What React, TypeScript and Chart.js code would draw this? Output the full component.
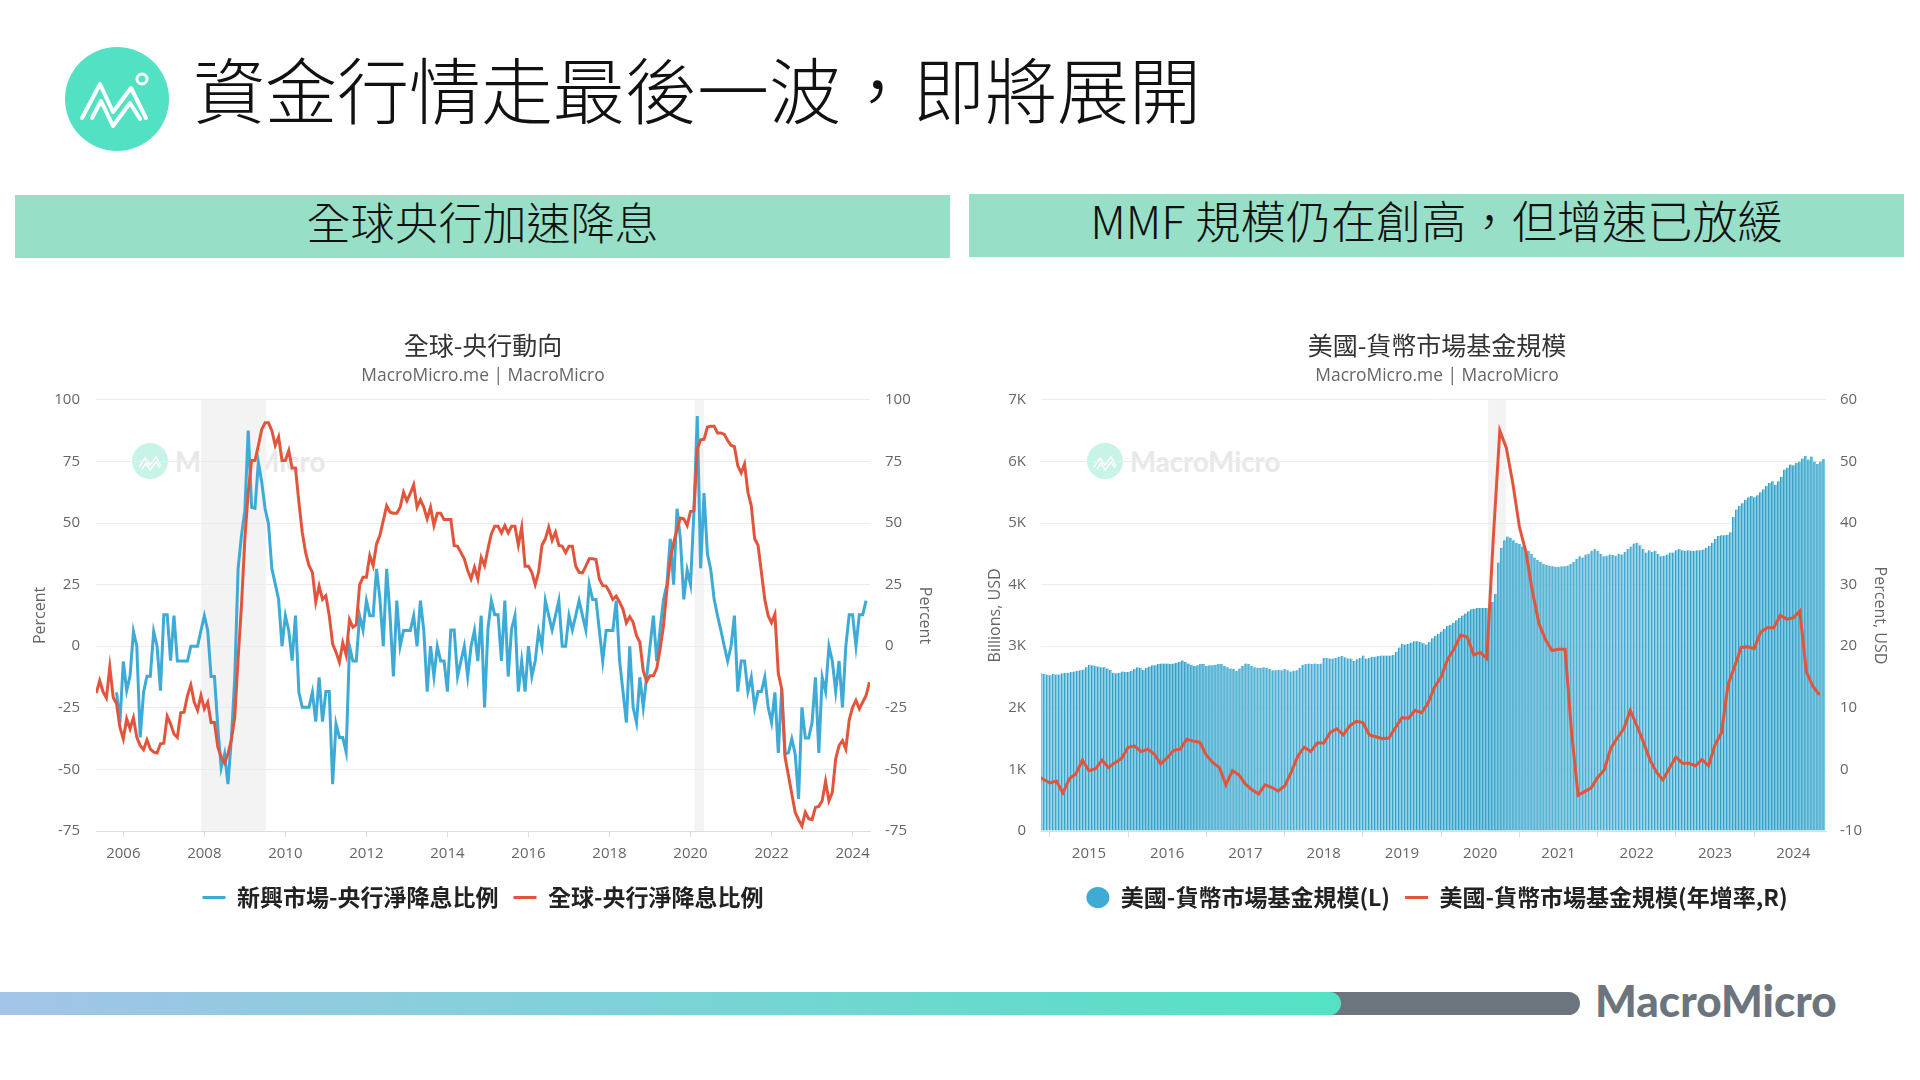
import React, { useEffect, useRef } from "react";
import { Chart, registerables } from "chart.js";

Chart.register(...registerables);

const FONT = '"Open Sans", "Noto Sans CJK TC", sans-serif';
const CJK = '"Noto Sans CJK TC", "Noto Sans", sans-serif';

const heading = "資金行情走最後一波，即將展開";
const bannerLeft = "全球央行加速降息";
const bannerRight = "MMF 規模仍在創高，但增速已放緩";

const titleLeft = "全球-央行動向";
const titleRight = "美國-貨幣市場基金規模";
const subtitleText = "MacroMicro.me | MacroMicro";

const nameEmerging = "新興市場-央行淨降息比例";
const nameGlobal = "全球-央行淨降息比例";
const nameSize = "美國-貨幣市場基金規模(L)";
const nameGrowth = "美國-貨幣市場基金規模(年增率,R)";

// monthly, starting 2005-05
const globalNet = [
  -19, -14, -18.5, -21, -8.5, -20.7, -23.4, -33,
  -37.6, -29.5, -33.5, -29, -37, -40.3, -42, -38, -41.7, -43, -43.3, -39.6,
  -39.4, -28.4, -31.5, -35.6, -37, -27, -26.8, -20, -15.7, -22.7, -26, -20,
  -25.4, -22.7, -31, -31, -41, -45, -47.4, -43.7, -38, -29, -5, 16.5,
  43.6, 62.5, 75.4, 75.4, 81.5, 88, 90.7, 90.7, 87.5, 81.5, 85, 75.4,
  75.4, 79.4, 72.3, 72.3, 58.5, 46.3, 38, 32.7, 30, 18, 24.4, 19,
  20.5, 12.4, 1, -2.4, -6.5, 1.4, -3.5, 10.8, 7.7, 8.7, 25, 28,
  28, 36.8, 32.7, 41.5, 45, 51, 57, 54.4, 54, 54, 56.4, 62.5,
  59, 62, 65.5, 56.4, 59.5, 56.4, 51.7, 56.4, 49, 54, 54, 51.4,
  51.4, 51.4, 40.9, 40.6, 38, 35.5, 30.7, 27.3, 32, 27.3, 36, 32.7,
  39.5, 45.6, 48.7, 48.7, 46, 49, 46, 48.7, 48.7, 41, 48.3, 32.5,
  32.5, 30, 25, 30, 41, 43.6, 48.3, 43, 46.3, 41, 40.6, 38,
  40.6, 40.6, 32.5, 30, 29.8, 32.5, 35.5, 35.5, 35.2, 27.3, 24.6, 24.4,
  22, 19, 20.3, 17.9, 15, 9.5, 12, 9.7, 4.3, 1.6, -10, -14.3,
  -12, -12, -9, -1, 8.4, 23, 35.5, 42, 47.5, 52, 51.7, 49,
  54.7, 55, 80, 83.8, 84, 89, 89.3, 89.3, 86.6, 86.6, 86, 83.5,
  81.5, 81, 73.3, 70.4, 74, 62.5, 57, 43.6, 41, 30, 19, 12.4,
  9.5, 13, -11, -17.3, -45, -52.5, -60, -67.4, -70.4, -73, -67.4, -70,
  -70.4, -65.4, -65, -62.7, -54.8, -62.7, -59.3, -45.7, -40.3, -38.3, -41.7, -30,
  -24.8, -22, -25.4, -22.7, -20, -14.6,
];

const emergingNet = [
  null, null, null, null, null, null, -18.7, -31,
  -6.2, -18, -12, 6, 0, -37, -18.7, -12.2, -12.2, 6, 0, -18,
  12.8, 12.8, -5.8, 12.4, -6, -6, -6, -6, 0, 0, 0, 6.4,
  12.4, 6.4, -12.3, -12.3, -33, -49.4, -43.7, -56, -37.6, -13, 31.4, 45,
  55, 87.5, 56.4, 56, 74.7, 66.6, 55.8, 49.7, 31.4, 25.3, 19, 0,
  12.4, 6.4, -5.8, 12.4, -18.7, -24.8, -24.8, -24.8, -18.7, -30.6, -12.6, -30.6,
  -18.4, -18.4, -56, -31.5, -37, -37, -43, 0, -6, -6, 12.4, 6.6,
  18.5, 12.4, 12.4, 31.4, 19.2, 0, 31.4, 12.4, -12.3, 18.5, 0, 6.4,
  6.4, 6.4, 12.4, 0, 18.5, 6.4, -18.4, 0, -12.3, 0, -6, -6,
  -18.4, 6.6, 6.6, -12.3, -6, 0, -12.3, 0, 6.4, -6, 12.4, -24.8,
  7, 18.5, 12.8, 12.8, -6, 18.5, -12.3, 7, 12.4, -18.4, -6, -18.4,
  0, -12.3, -6, 6, 0, 18.5, 12.4, 6.6, 12.4, 18.5, 0, 0,
  12.4, 6.6, 12.4, 18.5, 12.4, 6.6, 25, 19, 19, 6.4, -6, 6.4,
  6.4, 6.4, 18.5, -6, -18.4, -31, 0, -24.8, -31, -12.6, -24.8, -12.6,
  0, 12.4, -6, 7, 19, 25, 43.6, 25, 55.8, 43.6, 19, 31,
  25, 54.4, 93.4, 31.7, 62.2, 37.5, 31, 19, 12.4, 6.4, 0, -6,
  0, 12.4, -18.4, -6, -6, -18.4, -12.6, -24.8, -18.4, -18.4, -12.6, -24.8,
  -31, -18.7, -43.3, -17.3, -43.7, -43.3, -37.6, -43.7, -62, -24.8, -37.2, -37.2,
  -31, -12.6, -43.3, -12.6, -18.4, 0, -6, -18.4, -6, -24.8, 0, 12.8,
  12.8, 0, 12.8, 12.8, 18.5,
];

// every two weeks, starting mid-May 2014, billions of USD (thousands)
const fundSize = [
  2.56, 2.55, 2.54, 2.53, 2.55, 2.54, 2.54, 2.56, 2.57, 2.57, 2.58, 2.59, 2.6, 2.61, 2.62, 2.66,
  2.7, 2.69, 2.68, 2.67, 2.66, 2.66, 2.64, 2.62, 2.57, 2.56, 2.57, 2.59, 2.58, 2.58, 2.6, 2.63, 2.66, 2.65, 2.62, 2.65, 2.67, 2.69, 2.69, 2.71, 2.72, 2.72,
  2.72, 2.71, 2.72, 2.73, 2.75, 2.77, 2.75, 2.72, 2.7, 2.68, 2.69, 2.71, 2.71, 2.68, 2.69, 2.69, 2.7, 2.71, 2.71, 2.68, 2.66, 2.64, 2.63, 2.6, 2.64, 2.68,
  2.72, 2.71, 2.68, 2.66, 2.65, 2.65, 2.66, 2.65, 2.63, 2.61, 2.61, 2.62, 2.61, 2.63, 2.61, 2.59, 2.6, 2.61, 2.65, 2.7, 2.71, 2.72, 2.71, 2.72, 2.71, 2.72,
  2.81, 2.81, 2.8, 2.8, 2.81, 2.83, 2.84, 2.82, 2.8, 2.8, 2.76, 2.79, 2.81, 2.85, 2.8, 2.81, 2.83, 2.83, 2.84, 2.85, 2.85, 2.85, 2.85, 2.86, 2.91, 2.98,
  3.04, 3.03, 3.04, 3.06, 3.08, 3.08, 3.07, 3.05, 3.03, 3.07, 3.13, 3.17, 3.2, 3.24, 3.28, 3.33, 3.35, 3.38, 3.42, 3.46, 3.5, 3.53, 3.57, 3.6, 3.61, 3.62,
  3.62, 3.62, 3.62, 3.63, 3.72, 3.85, 4.36, 4.6, 4.72, 4.78, 4.76, 4.72, 4.68, 4.66, 4.62, 4.58, 4.55, 4.5, 4.44, 4.4, 4.37, 4.34, 4.32, 4.31, 4.3, 4.29,
  4.29, 4.3, 4.3, 4.31, 4.34, 4.37, 4.42, 4.46, 4.44, 4.49, 4.5, 4.55, 4.58, 4.55, 4.5, 4.46, 4.47, 4.49, 4.48, 4.47, 4.5, 4.49, 4.53, 4.58, 4.62, 4.67,
  4.68, 4.64, 4.58, 4.52, 4.56, 4.53, 4.55, 4.5, 4.46, 4.47, 4.49, 4.52, 4.52, 4.56, 4.58, 4.56, 4.55, 4.56, 4.55, 4.55, 4.56, 4.56, 4.57, 4.6, 4.63, 4.68,
  4.74, 4.79, 4.8, 4.8, 4.81, 4.85, 5.1, 5.22, 5.28, 5.32, 5.38, 5.42, 5.44, 5.42, 5.45, 5.5, 5.55, 5.6, 5.65, 5.68, 5.62, 5.68, 5.75, 5.87, 5.9, 5.95,
  5.94, 5.98, 6, 6.05, 6.09, 6.03, 6.08, 6, 5.96, 6, 6.04,
];

// monthly, starting 2014-05
const fundGrowth = [
  -1, -1.6, -2.2, -1.9, -3.8, -1.5, -0.7, 1.5,
  -0.2, 0.1, 1.5, 0.3, 1.1, 1.8, 3.6, 3.8, 2.9, 3.3, 2.5, 0.9,
  1.9, 3.1, 3.3, 4.9, 4.6, 4.4, 2.3, 1.1, 0.3, -2.5, -0.2, -0.9,
  -2.4, -3.3, -4, -2.5, -2.9, -3.5, -2.7, -0.5, 2.1, 3.6, 2.9, 4.3,
  4.3, 6, 6.6, 5.6, 7.1, 7.8, 7.6, 5.6, 5.3, 5, 5.1, 6.8,
  8.4, 8.3, 9.6, 9.2, 10.8, 13.4, 15, 17.9, 19.6, 21.8, 21.5, 18.6,
  19, 18, 37.6, 55, 52.2, 46.4, 39.4, 35.3, 28.9, 23.7, 21.1, 19.3,
  19.5, 19.5, 6, -4.2, -3.6, -3, -1.3, -0.1, 3.4, 5.1, 6.6, 9.6,
  7.1, 4.5, 1.6, -0.4, -1.7, 0.2, 2, 1, 1, 0.6, 1.6, 0.6,
  4, 6, 13.8, 16.7, 19.8, 19.9, 19.6, 22.3, 23, 23, 25, 24.4,
  24.6, 25.7, 15.9, 13.5, 12.1,
];

// recession bands, as decimal years
const bandsLeft = [
  [2007.92, 2009.52],
  [2020.1, 2020.33],
];
const bandsRight = [[2020.1, 2020.33]];

const BLUE = "#3eaad6";
const BAR_DARK = "#3a9fc5";
const BAR_LIGHT = "#7ccae4";
const RED = "#e2553c";
const GRID = "#ececec";
const TICK = "#666666";

const monthly = (startYear: number, startMonth: number, values: (number | null)[]) =>
  values.map((y, i) => ({ x: startYear + (startMonth - 1 + i) / 12, y }));
const biweekly = (start: number, values: number[]) =>
  values.map((y, i) => ({ x: start + i / 26, y: y * 1000 }));

const bandPlugin = (bands: number[][]) => ({
  id: "bands",
  beforeDraw(chart: any) {
    const { ctx, chartArea, scales } = chart;
    ctx.save();
    ctx.fillStyle = "#f3f3f3";
    bands.forEach(([a, b]) => {
      const x0 = scales.x.getPixelForValue(a);
      const x1 = scales.x.getPixelForValue(b);
      ctx.fillRect(x0, chartArea.top, x1 - x0, chartArea.height);
    });
    ctx.restore();
  },
});

const tickFont = { family: FONT, size: 15 };

const legendItems = (chart: any) => {
  const items = Chart.defaults.plugins.legend.labels.generateLabels(chart);
  items.forEach((it: any) => {
    if (chart.data.datasets[it.datasetIndex].type === "bar") {
      it.fillStyle = BLUE;
      it.strokeStyle = BLUE;
      it.lineWidth = 0;
    }
  });
  return items;
};

const baseOptions = (title: string) => ({
  responsive: false,
  animation: false as const,
  layout: { padding: { top: 0, bottom: 0, left: 0, right: 0 } },
  plugins: {
    title: {
      display: true,
      text: title,
      color: "#333333",
      font: { family: CJK, size: 25, weight: "normal" as const, lineHeight: 1.2 },
      padding: { top: 3, bottom: 1 },
    },
    subtitle: {
      display: true,
      text: subtitleText,
      color: "#666666",
      font: { family: FONT, size: 17.4, weight: "normal" as const, lineHeight: 1.2 },
      padding: { top: 5, bottom: 13 },
    },
    legend: {
      position: "bottom" as const,
      labels: {
        usePointStyle: true,
        pointStyleWidth: 23,
        boxHeight: 15,
        padding: 15,
        color: "#222222",
        font: { family: CJK, size: 23, weight: "bold" as const, lineHeight: 1.2 },
        generateLabels: legendItems,
        sort: (a: any, b: any) => a.datasetIndex - b.datasetIndex,
      },
    },
    tooltip: { enabled: false },
  },
});

const xAxis = (min: number, max: number, step: number) => ({
  type: "linear" as const,
  min,
  max,
  border: { color: "#dddddd" },
  grid: { drawOnChartArea: false, drawTicks: true, tickLength: 6, color: "#dddddd" },
  ticks: {
    stepSize: step,
    includeBounds: false,
    autoSkip: false,
    maxRotation: 0,
    padding: 8,
    color: TICK,
    font: tickFont,
    callback: (v: number | string) => String(v),
  },
});

const yAxis = (
  position: "left" | "right",
  min: number,
  max: number,
  step: number,
  width: number,
  title: string,
  titlePad: number,
  tickPad: number,
  showGrid: boolean,
  fmt: (v: number) => string
) => ({
  type: "linear" as const,
  position,
  min,
  max,
  afterFit: (s: any) => {
    s.width = width;
  },
  border: { display: false },
  grid: { display: showGrid, drawTicks: false, color: GRID },
  title: {
    display: true,
    text: title,
    color: TICK,
    font: { family: FONT, size: 16, lineHeight: 1.2 },
    padding: { top: titlePad, bottom: 0 },
  },
  ticks: {
    stepSize: step,
    padding: tickPad,
    color: TICK,
    font: tickFont,
    callback: (v: number | string) => fmt(Number(v)),
  },
});

function LeftChart() {
  const ref = useRef<HTMLCanvasElement>(null);
  useEffect(() => {
    const chart = new Chart(ref.current!, {
      type: "line",
      data: {
        datasets: [
          {
            label: nameEmerging,
            data: monthly(2005, 5, emergingNet),
            borderColor: BLUE,
            backgroundColor: BLUE,
            borderWidth: 3,
            pointRadius: 0,
            pointStyle: "line",
            pointBorderColor: BLUE,
            pointBorderWidth: 3,
            tension: 0,
            order: 1,
          },
          {
            label: nameGlobal,
            data: monthly(2005, 5, globalNet),
            borderColor: RED,
            backgroundColor: RED,
            borderWidth: 3,
            pointRadius: 0,
            pointStyle: "line",
            pointBorderColor: RED,
            pointBorderWidth: 3,
            tension: 0,
            order: 0,
          },
        ],
      },
      options: {
        ...baseOptions(titleLeft),
        scales: {
          x: xAxis(2005.326, 2024.43, 2),
          y: yAxis("left", -75, 100, 25, 90, "Percent", 25, 16, true, (v) => String(v)),
          y2: yAxis("right", -75, 100, 25, 90, "Percent", 26, 15, false, (v) => String(v)),
        },
      } as any,
      plugins: [bandPlugin(bandsLeft)],
    });
    return () => chart.destroy();
  }, []);
  return (
    <canvas
      ref={ref}
      width={954}
      height={592}
      style={{ position: "absolute", left: 6, top: 327, width: 954, height: 592 }}
    />
  );
}

function RightChart() {
  const ref = useRef<HTMLCanvasElement>(null);
  useEffect(() => {
    const chart = new Chart(ref.current!, {
      type: "bar",
      data: {
        datasets: [
          {
            type: "bar",
            label: nameSize,
            data: biweekly(2014.39, fundSize),
            backgroundColor: BAR_LIGHT,
            borderColor: BAR_DARK,
            borderWidth: { left: 1.3, right: 0, top: 0, bottom: 0 },
            borderSkipped: false,
            barThickness: 2.7,
            yAxisID: "y",
            order: 1,
          },
          {
            type: "line",
            label: nameGrowth,
            data: monthly(2014, 5, fundGrowth),
            borderColor: RED,
            backgroundColor: RED,
            borderWidth: 3,
            pointRadius: 0,
            pointStyle: "line",
            pointBorderColor: RED,
            pointBorderWidth: 3,
            tension: 0,
            yAxisID: "y2",
            order: 0,
          },
        ],
      },
      options: {
        ...baseOptions(titleRight),
        scales: {
          x: { ...xAxis(2014.387, 2024.418, 1), offset: false },
          y: yAxis("left", 0, 7000, 1000, 81, "Billions, USD", 26, 15, true, (v) =>
            v === 0 ? "0" : `${v / 1000}K`
          ),
          y2: yAxis("right", -10, 60, 10, 88, "Percent, USD", 25, 14, false, (v) => String(v)),
        },
      } as any,
      plugins: [bandPlugin(bandsRight)],
    });
    return () => chart.destroy();
  }, []);
  return (
    <canvas
      ref={ref}
      width={954}
      height={592}
      style={{ position: "absolute", left: 960, top: 327, width: 954, height: 592 }}
    />
  );
}

const Watermark = ({ x }: { x: number }) => (
  <div style={{ position: "absolute", left: x, top: 443, height: 36, display: "flex", alignItems: "center" }}>
    <svg width={36} height={36} viewBox="0 0 36 36" style={{ marginRight: 7 }}>
      <circle cx={18} cy={18} r={18} fill="#c8f3e8" />
      <path d="M7 24 L13 15 L18 22 L24 14 L29 23 M10 26 L14 20 L18 27 L24 19 L28 25" fill="none" stroke="#fff" strokeWidth={1.5} />
    </svg>
    <span style={{ fontFamily: "Lato", fontWeight: 700, fontSize: 27.6, color: "#e8e8e8" }}>MacroMicro</span>
  </div>
);

const Banner = ({ left, width, top, text, size }: { left: number; width: number; top: number; text: string; size: number }) => (
  <div
    style={{
      position: "absolute",
      left,
      top,
      width,
      height: 63,
      background: "#97e0c7",
      color: "#111",
      fontFamily: CJK,
      fontWeight: 300,
      fontSize: size,
      lineHeight: "52px",
      textAlign: "center",
      whiteSpace: "nowrap",
    }}
  >
    {text}
  </div>
);

export default function App() {
  return (
    <div style={{ position: "fixed", left: 0, top: 0, width: 1920, height: 1080, background: "#fff", overflow: "hidden" }}>
      <svg width={106} height={106} viewBox="0 0 106 106" style={{ position: "absolute", left: 64, top: 46 }}>
        <circle cx={53} cy={53} r={52} fill="#52e2c3" />
        <path
          d="M18 72 L36 38 L49 66 L67 42 L82 72 M28 72 L37 55 L49 80 L66 57 L76 73"
          fill="none"
          stroke="#fff"
          strokeWidth={4}
          strokeLinecap="round"
          strokeLinejoin="round"
        />
        <circle cx={78} cy={33} r={5} fill="none" stroke="#fff" strokeWidth={3} />
      </svg>
      <div
        style={{
          position: "absolute",
          left: 193,
          top: 42,
          fontFamily: CJK,
          fontWeight: 300,
          fontSize: 72,
          lineHeight: "90px",
          color: "#111",
          whiteSpace: "nowrap",
        }}
      >
        {heading}
      </div>
      <Banner left={15} width={935} top={195} text={bannerLeft} size={44} />
      <Banner left={969} width={935} top={194} text={bannerRight} size={45.2} />
      <Watermark x={132} />
      <Watermark x={1087} />
      <LeftChart />
      <RightChart />
      <div
        style={{
          position: "absolute",
          left: 0,
          top: 992,
          width: 1580,
          height: 23,
          background: "#6c757d",
          borderRadius: "0 12px 12px 0",
        }}
      />
      <div
        style={{
          position: "absolute",
          left: 0,
          top: 992,
          width: 1341,
          height: 23,
          background: "linear-gradient(90deg, #a3c4e8 0%, #52e2c3 100%)",
          borderRadius: "0 12px 12px 0",
        }}
      />
      <div
        style={{
          position: "absolute",
          left: 1595,
          top: 972,
          fontFamily: "Lato",
          fontWeight: 900,
          fontSize: 44,
          lineHeight: "56px",
          color: "#6c757d",
          whiteSpace: "nowrap",
        }}
      >
        MacroMicro
      </div>
    </div>
  );
}
